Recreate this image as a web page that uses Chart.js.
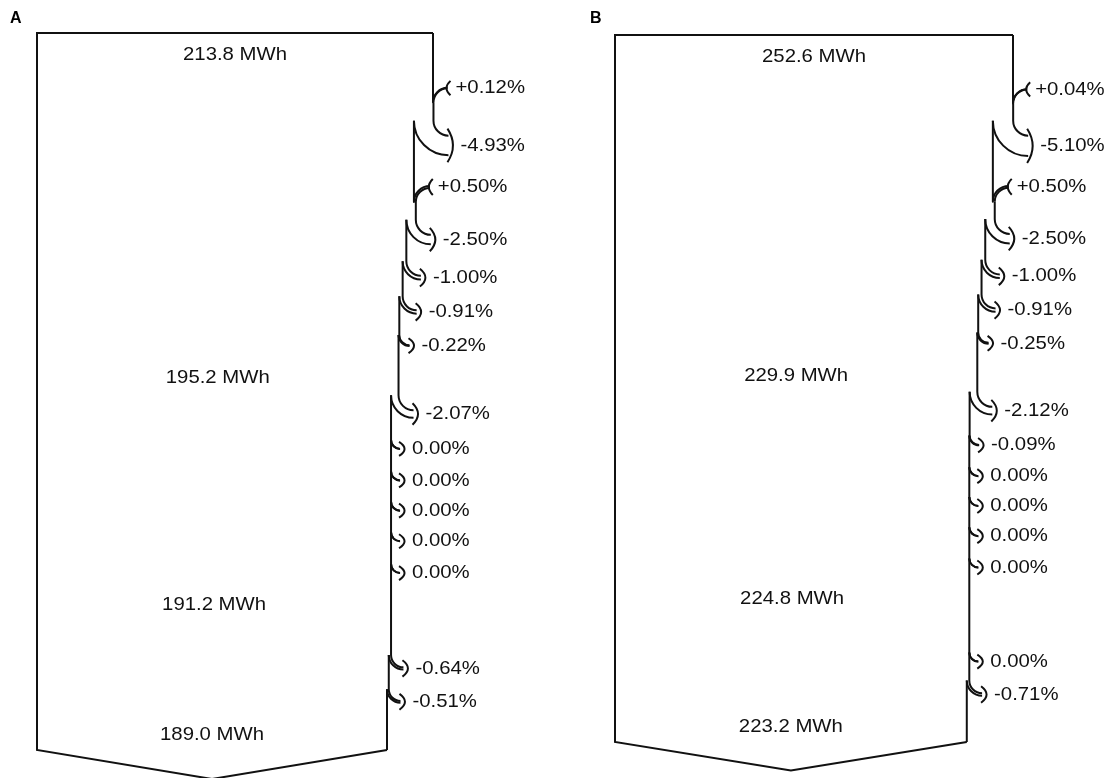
<!DOCTYPE html>
<html lang="en">
<head>
  <meta charset="UTF-8">
  <title>Energy flow</title>
  <script src="https://cdn.jsdelivr.net/npm/chart.js"></script>
  <style>
    body { margin: 0; background: #fff; }
    #wrap { position: relative; width: 1105px; height: 778px; }
    .panel { position: absolute; top: 0; width: 552px; height: 778px; }
    #panelA { left: 0; }
    #panelB { left: 553px; }
  </style>
</head>
<body>
  <div id="wrap">
    <div class="panel" id="panelA"><canvas id="chartA" width="552" height="778"></canvas></div>
    <div class="panel" id="panelB"><canvas id="chartB" width="552" height="778"></canvas></div>
  </div>

  <script>
    // step changes in %, top to bottom
    const stepsA = [0.12, -4.93, 0.50, -2.50, -1.00, -0.91, -0.22, -2.07, 0.00, 0.00, 0.00, 0.00, 0.00, -0.64, -0.51];
    const energyA = [213.8, 195.2, 191.2, 189.0];
    const stepsB = [0.04, -5.10, 0.50, -2.50, -1.00, -0.91, -0.25, -2.12, -0.09, 0.00, 0.00, 0.00, 0.00, 0.00, -0.71];
    const energyB = [252.6, 229.9, 224.8, 223.2];

    // row template shared by both diagrams: E = energy label, S = step arrow, '-' = empty row
    const rowKinds = ['E','S','S','S','S','S','S','S','E','S','S','S','S','S','S','E','-','S','S','E'];
    const rowHeights = [0.69, 1.06, 1.82, 1.32, 1.67, 1.21, 1.09, 1.07, 1.03, 1.14, 1.11, 1.0, 0.96, 0.97, 1.01, 1.01, 1.01, 1.01, 1.06, 1.05];
    const bottomHeight = 0.48;
    const tipDepth = 0.92;

    const FONT = '19px "Liberation Sans", Arial, sans-serif';

    function drawText(ctx, text, x, y, align) {
      ctx.save();
      ctx.translate(x, y);
      ctx.scale(1.07, 1);
      ctx.font = FONT;
      ctx.textAlign = align;
      ctx.textBaseline = 'middle';
      ctx.fillText(text, 0, 0);
      ctx.restore();
    }

    function pctText(p) {
      if (p > 0) return '+' + p.toFixed(2) + '%';
      if (p < 0) return p.toFixed(2) + '%';
      return '0.00%';
    }

    function flowPlugin(letter, letterX, steps, energy, flow, rowY) {
      return {
        id: 'flowArrows',
        afterDatasetsDraw(chart) {
          const ctx = chart.ctx, xs = chart.scales.x, ys = chart.scales.y;
          ctx.save();
          ctx.strokeStyle = '#111';
          ctx.fillStyle = '#111';
          ctx.lineWidth = 2;
          ctx.lineJoin = 'round';

          let xEdge = xs.getPixelForValue(flow[0]);
          let yStart = ys.getPixelForValue(0);
          let s = 0, e = 0;

          rowKinds.forEach((kind, i) => {
            const yc = ys.getPixelForValue(rowY[i]);
            if (kind === 'E') {
              drawText(ctx, energy[e].toFixed(1) + ' MWh', xs.getPixelForValue(energy[e] / 2), yc, 'center');
              e++;
              return;
            }
            if (kind !== 'S') return;

            const p = steps[s];
            const xNew = xs.getPixelForValue(flow[s + 1]);
            const w = Math.abs(xNew - xEdge);

            if (p > 0) {
              // gain coming in from the right
              const r = 14, R = r + w;
              const ex = xEdge + R;
              const ya = yc - w / 2;
              const cy = ya + R;
              ctx.beginPath();
              ctx.moveTo(xEdge, yStart);
              ctx.lineTo(xEdge, cy);
              ctx.arc(ex, cy, R, Math.PI, Math.PI * 1.5, false);
              ctx.stroke();
              ctx.beginPath();
              ctx.moveTo(xNew, cy);
              ctx.arc(ex, cy, r, Math.PI, Math.PI * 1.5, false);
              ctx.stroke();
              ctx.beginPath();
              ctx.moveTo(ex + 3, ya - 7);
              ctx.quadraticCurveTo(ex - 5, yc, ex + 3, ya + w + 7);
              ctx.stroke();
              drawText(ctx, pctText(p), ex + 8, yc, 'left');
              yStart = cy;
            } else {
              // loss leaving to the right
              const r = 9 + Math.min(1.5 * w, 6);
              const y0 = yc - r - w / 2;
              const cx = xEdge + r;
              ctx.beginPath();
              ctx.moveTo(xEdge, yStart);
              ctx.lineTo(xEdge, y0);
              ctx.arc(cx, y0, r, Math.PI, Math.PI / 2, true);
              ctx.stroke();
              ctx.beginPath();
              ctx.moveTo(xNew, y0);
              ctx.arc(cx, y0, r + w, Math.PI, Math.PI / 2, true);
              ctx.stroke();
              ctx.beginPath();
              ctx.moveTo(cx - 1, y0 + r - 7);
              ctx.quadraticCurveTo(cx + 10, yc, cx - 1, y0 + r + w + 7);
              ctx.stroke();
              drawText(ctx, pctText(p), cx + 12, yc, 'left');
              yStart = y0;
            }
            xEdge = xNew;
            s++;
          });

          // last stretch of the right edge
          ctx.beginPath();
          ctx.moveTo(xEdge, yStart);
          ctx.lineTo(xEdge, ys.getPixelForValue(ys.max));
          ctx.stroke();

          ctx.font = 'bold 16px "Liberation Sans", Arial, sans-serif';
          ctx.fillStyle = '#000';
          ctx.textAlign = 'left';
          ctx.textBaseline = 'middle';
          ctx.fillText(letter, letterX, 19);
          ctx.restore();
        }
      };
    }

    function makeChart(id, letter, letterX, steps, energy, pad) {
      // band width after each step
      const flow = [energy[0]];
      steps.forEach(p => flow.push(flow[flow.length - 1] * (1 + p / 100)));
      const last = flow[flow.length - 1];

      const rowY = [];
      let acc = 0;
      rowHeights.forEach(h => { acc += h; rowY.push(acc); });
      const yBottom = acc + bottomHeight;

      new Chart(document.getElementById(id), {
        type: 'scatter',
        data: {
          datasets: [{
            data: [
              {x: energy[0], y: 0},
              {x: 0, y: 0},
              {x: 0, y: yBottom},
              {x: last / 2, y: yBottom + tipDepth},
              {x: last, y: yBottom}
            ],
            showLine: true,
            borderColor: '#111',
            borderWidth: 2,
            borderJoinStyle: 'miter',
            pointRadius: 0,
            tension: 0,
            clip: false
          }]
        },
        options: {
          responsive: false,
          animation: false,
          layout: { padding: pad },
          plugins: { legend: { display: false }, tooltip: { enabled: false } },
          scales: {
            x: { type: 'linear', display: false, min: 0, max: energy[0] },
            y: { type: 'linear', display: false, min: 0, max: yBottom, reverse: true }
          }
        },
        plugins: [flowPlugin(letter, letterX, steps, energy, flow, rowY)]
      });
    }

    makeChart('chartA', 'A', 10, stepsA, energyA, {left: 37, right: 119, top: 33, bottom: 28});
    makeChart('chartB', 'B', 37, stepsB, energyB, {left: 62, right: 92, top: 35, bottom: 36});
  </script>
</body>
</html>
